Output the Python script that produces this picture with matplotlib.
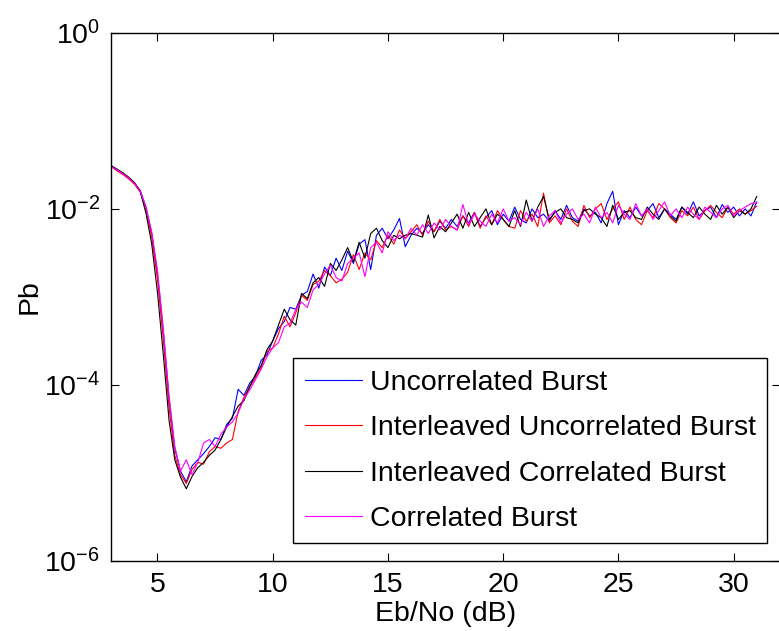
import numpy as np
import matplotlib
matplotlib.use('Agg')
import matplotlib.pyplot as plt

plt.rcParams['font.family'] = ['Liberation Sans', 'DejaVu Sans']
plt.rcParams['mathtext.fontset'] = 'custom'
plt.rcParams['mathtext.rm'] = 'Liberation Sans'
plt.rcParams['mathtext.it'] = 'Liberation Sans:italic'

# Eb/No grid (dB)
ebno = np.arange(3, 31.001, 0.25)

# log10(Pb)
log_uncorr = [
    -1.52, -1.56, -1.60, -1.65, -1.71, -1.79, -1.98, -2.28, -2.74, -3.38,
    -4.15, -4.72, -4.98, -5.10, -4.92, -4.85, -4.78, -4.70, -4.60, -4.62,
    -4.45, -4.38, -4.05, -4.12, -3.98, -3.90, -3.72, -3.66,
    -3.50, -3.36, -3.28, -3.12, -3.14, -2.98, -2.94, -2.74, -2.90, -2.66, -2.76, -2.56,
    -2.70, -2.48, -2.62, -2.40, -2.35, -2.69, -2.30, -2.22, -2.34, -2.24,
    -2.11, -2.43, -2.30, -2.22, -2.28, -2.18, -2.26, -2.14, -2.22, -2.12,
    -2.20, -2.08, -2.16, -2.04, -2.20, -2.10, -2.02, -2.18, -2.06, -2.14,
    -1.98, -2.12, -2.16, -2.00, -2.10, -2.06, -2.14, -2.02, -2.12, -1.96,
    -2.10, -2.14, -2.00, -2.08, -2.04, -2.16, -1.94, -1.80, -2.18, -2.02,
    -2.10, -1.98, -2.08, -2.02, -1.94, -2.10, -2.00, -2.06, -2.12, -1.98,
    -2.06, -1.92, -2.08, -2.02, -1.98, -2.10, -1.95, -2.04, -1.98, -2.08,
    -2.00, -2.08, -1.92]

log_int_uncorr = [
    -1.52, -1.57, -1.61, -1.66, -1.72, -1.81, -2.01, -2.32, -2.80, -3.48,
    -4.25, -4.80, -5.02, -5.12, -4.96, -4.88, -4.90, -4.76, -4.70, -4.72,
    -4.66, -4.62, -4.30, -4.14, -4.02, -3.92, -3.80, -3.62,
    -3.58, -3.42, -3.22, -3.34, -3.18, -2.98, -3.04, -2.86, -2.82, -2.70, -2.76, -2.84,
    -2.80, -2.72, -2.52, -2.69, -2.50, -2.58, -2.36, -2.44, -2.30, -2.40,
    -2.24, -2.34, -2.26, -2.18, -2.30, -2.14, -2.26, -2.12, -2.24, -2.20,
    -2.24, -2.08, -2.20, -2.04, -2.22, -2.08, -2.18, -2.02, -2.12, -2.20,
    -2.22, -2.02, -2.14, -2.06, -2.20, -1.82, -2.16, -2.08, -2.18, -2.00,
    -2.14, -2.20, -1.96, -2.10, -2.00, -1.94, -2.12, -2.00, -1.92, -2.12,
    -1.98, -2.12, -2.18, -2.02, -2.10, -1.94, -2.00, -2.10, -2.16, -2.02,
    -2.08, -1.98, -2.12, -2.02, -1.96, -2.04, -2.10, -1.98, -2.06, -2.00,
    -2.06, -2.02, -1.97]

log_int_corr = [
    -1.51, -1.55, -1.59, -1.64, -1.70, -1.80, -2.05, -2.40, -2.95, -3.65,
    -4.40, -4.85, -5.05, -5.18, -5.04, -4.94, -4.88, -4.80, -4.74, -4.62,
    -4.48, -4.36, -4.24, -4.18, -4.02, -3.88, -3.78, -3.60,
    -3.50, -3.32, -3.14, -3.26, -3.32, -2.96, -3.02, -2.84, -2.78, -2.88, -2.62, -2.70,
    -2.58, -2.44, -2.60, -2.38, -2.56, -2.28, -2.22, -2.36, -2.44, -2.30,
    -2.34, -2.30, -2.28, -2.30, -2.32, -2.07, -2.33, -2.20, -2.26, -2.16,
    -2.06, -2.22, -2.04, -2.20, -2.10, -2.00, -2.18, -2.06, -2.12, -2.20,
    -2.02, -2.20, -1.90, -2.14, -1.98, -1.86, -2.12, -2.04, -2.00, -2.10,
    -2.12, -2.16, -2.02, -2.00, -2.06, -2.10, -2.20, -1.96, -2.12, -2.04,
    -2.02, -2.10, -2.12, -1.98, -2.06, -2.12, -2.00, -2.08, -2.14, -1.98,
    -2.04, -2.10, -1.98, -2.06, -2.12, -1.96, -2.06, -1.98, -2.10, -2.02,
    -2.06, -2.00, -1.86]

log_corr = [
    -1.52, -1.56, -1.60, -1.65, -1.71, -1.80, -1.98, -2.26, -2.70, -3.36,
    -4.12, -4.70, -4.98, -4.85, -5.02, -4.88, -4.66, -4.62, -4.70, -4.56,
    -4.48, -4.42, -4.32, -4.16, -4.06, -3.94, -3.82, -3.68,
    -3.58, -3.52, -3.34, -3.30, -3.14, -3.06, -3.12, -2.92, -2.86, -2.74, -2.64, -2.78,
    -2.82, -2.62, -2.56, -2.50, -2.77, -2.44, -2.38, -2.50, -2.26, -2.36,
    -2.30, -2.34, -2.22, -2.30, -2.18, -2.28, -2.16, -2.24, -2.12, -2.20,
    -2.24, -1.95, -2.18, -2.06, -2.14, -2.20, -2.06, -2.16, -2.00, -2.14,
    -2.10, -2.18, -2.04, -2.14, -2.00, -2.20, -2.08, -2.02, -2.16, -2.06,
    -2.00, -2.12, -2.06, -2.16, -1.98, -2.10, -2.04, -2.16, -1.96, -2.06,
    -2.12, -1.94, -2.08, -2.00, -2.12, -2.02, -1.92, -2.08, -2.00, -2.10,
    -1.98, -2.06, -2.12, -1.98, -2.04, -2.10, -2.00, -1.96, -2.08, -2.02,
    -1.98, -1.94, -1.93]

names = ['Uncorrelated Burst', 'Interleaved Uncorrelated Burst',
         'Interleaved Correlated Burst', 'Correlated Burst']
series = [log_uncorr, log_int_uncorr, log_int_corr, log_corr]
colors = ['#0000ff', '#ff0000', '#000000', '#ff00ff']

fig = plt.figure(figsize=(7.79, 6.31), dpi=100)
ax = fig.add_axes([0.143, 0.111, 0.858, 0.837])

for logs, name, c in zip(series, names, colors):
    ax.semilogy(ebno, 10.0 ** np.array(logs), color=c, lw=0.8, label=name)

ax.set_xlim(3, 32)
ax.set_ylim(1e-6, 1)
ax.set_xticks([5, 10, 15, 20, 25, 30])
ax.set_yticks([1e-6, 1e-4, 1e-2, 1e0])
ax.set_yticklabels([r'$10^{-6}$', r'$10^{-4}$', r'$10^{-2}$', r'$10^{0}$'])
ax.minorticks_off()
ax.tick_params(direction='in', length=6, width=0.8, top=True, right=True,
               labelsize=20.5, pad=8)
for s in ax.spines.values():
    s.set_linewidth(1.0)

ax.set_xlabel('Eb/No (dB)', fontsize=20.5, labelpad=2)
ax.set_ylabel('Pb', fontsize=20.5, labelpad=1)

leg = ax.legend(loc='lower right', bbox_to_anchor=(0.9816, 0.0335),
                borderaxespad=0, fontsize=20.5, handlelength=2.0,
                handletextpad=0.3, labelspacing=0.68, borderpad=0.4,
                fancybox=False, framealpha=1, edgecolor='black')
leg.get_frame().set_linewidth(1.0)

fig.savefig('out.png', dpi=100)
